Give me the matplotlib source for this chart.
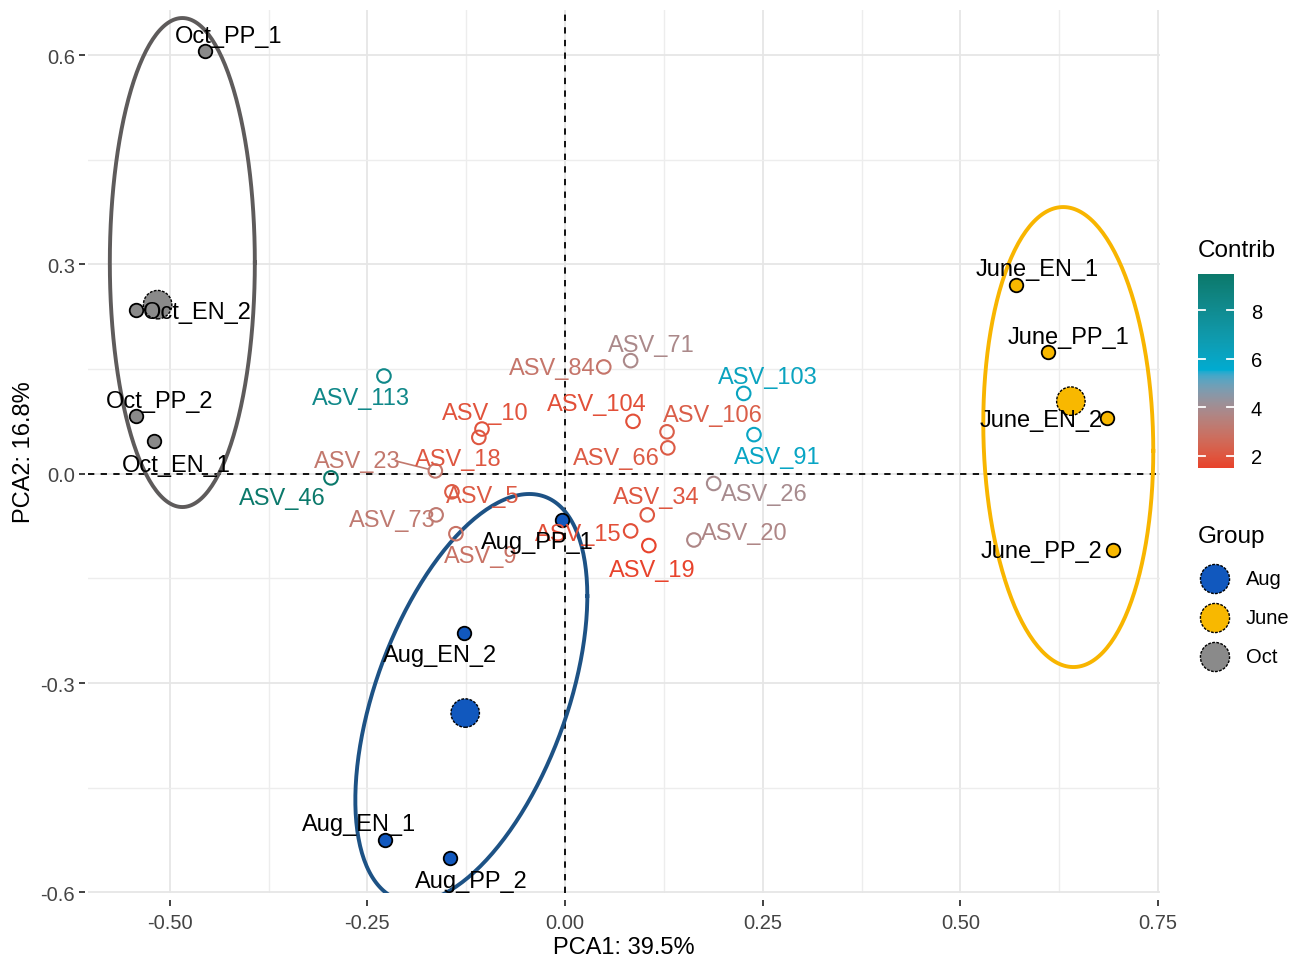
import numpy as np
import matplotlib
matplotlib.use('Agg')
import matplotlib.pyplot as plt
from matplotlib.colors import ListedColormap, Normalize, to_rgb

plt.rcParams['font.family'] = ['Liberation Sans', 'DejaVu Sans']

# ---------------- data ----------------
ind_names = ['Oct_PP_1', 'Oct_EN_2', 'Oct_PP_2', 'Oct_EN_1',
             'June_EN_1', 'June_PP_1', 'June_EN_2', 'June_PP_2',
             'Aug_PP_1', 'Aug_EN_2', 'Aug_EN_1', 'Aug_PP_2']
ind_group = ['Oct', 'Oct', 'Oct', 'Oct',
             'June', 'June', 'June', 'June',
             'Aug', 'Aug', 'Aug', 'Aug']
ind_x = [-0.455, -0.543, -0.543, -0.520,
         0.570, 0.611, 0.685, 0.693,
         -0.004, -0.128, -0.228, -0.145]
ind_y = [0.606, 0.234, 0.082, 0.047,
         0.271, 0.175, 0.080, -0.110,
         -0.067, -0.229, -0.525, -0.551]

var_names = ['ASV_113', 'ASV_46', 'ASV_23', 'ASV_10', 'ASV_18', 'ASV_5',
             'ASV_73', 'ASV_9', 'ASV_84', 'ASV_71', 'ASV_104', 'ASV_106',
             'ASV_66', 'ASV_103', 'ASV_91', 'ASV_26', 'ASV_34', 'ASV_15',
             'ASV_19', 'ASV_20']
var_x = [-0.229, -0.296, -0.164, -0.105, -0.109, -0.143,
         -0.163, -0.138, 0.049, 0.083, 0.086, 0.129,
         0.130, 0.226, 0.239, 0.188, 0.104, 0.083,
         0.106, 0.163]
var_y = [0.140, -0.006, 0.004, 0.064, 0.052, -0.026,
         -0.059, -0.086, 0.153, 0.162, 0.075, 0.060,
         0.037, 0.115, 0.056, -0.014, -0.059, -0.082,
         -0.103, -0.095]
var_contrib = [8.3, 9.5, 3.1, 1.9, 2.0, 2.1,
               3.2, 2.9, 3.0, 3.8, 1.8, 2.2,
               2.1, 6.2, 6.0, 3.9, 2.0, 1.8,
               1.5, 3.7]

groups = ['Aug', 'June', 'Oct']
# group ellipses: centre, half-extent in x and y, correlation (tilt)
ell_cx = [-0.1185, 0.6365, -0.484]
ell_cy = [-0.3215, 0.0525, 0.3026]
ell_sx = [0.1467, 0.1075, 0.0917]
ell_sy = [0.2924, 0.3296, 0.3504]
ell_r = [0.50, -0.06, 0.0]

x_ticks = [-0.50, -0.25, 0.00, 0.25, 0.50, 0.75]
y_ticks = [-0.6, -0.3, 0.0, 0.3, 0.6]
contrib_ticks = [2, 4, 6, 8]
x_title = 'PCA1: 39.5%'
y_title = 'PCA2: 16.8%'

# ---------------- style ----------------
group_fill = {'Aug': '#1158BE', 'June': '#F8B800', 'Oct': '#8A8A8A'}
group_line = {'Aug': '#1D5285', 'June': '#F8B500', 'Oct': '#5E5B5B'}
grad_cols = ['#E8432C', '#00ACD2', '#0B796B']

# label offsets in pixels (dx right, dy down)
ind_off = {'Oct_PP_1': (23, -15), 'Oct_EN_2': (62, 2), 'Oct_PP_2': (24, -15),
           'Oct_EN_1': (22, 24), 'June_EN_1': (21, -16), 'June_PP_1': (20, -15),
           'June_EN_2': (-65, 2), 'June_PP_2': (-71, 1), 'Aug_PP_1': (-25, 22),
           'Aug_EN_2': (-24, 22), 'Aug_EN_1': (-26, -16), 'Aug_PP_2': (21, 23)}
var_off = {'ASV_113': (-23, 22), 'ASV_46': (-49, 20), 'ASV_23': (-78, -10),
           'ASV_10': (3, -16), 'ASV_18': (-21, 22), 'ASV_5': (31, 4),
           'ASV_73': (-44, 5), 'ASV_9': (25, 22), 'ASV_84': (-51, 1),
           'ASV_71': (21, -16), 'ASV_104': (-36, -17), 'ASV_106': (46, -17),
           'ASV_66': (-51, 10), 'ASV_103': (24, -16), 'ASV_91': (23, 22),
           'ASV_26': (51, 11), 'ASV_34': (9, -18), 'ASV_15': (-52, 3),
           'ASV_19': (3, 24), 'ASV_20': (50, -7)}
seg_labels = {'ASV_23'}


# ---------------- helpers ----------------
def _lin(c):
    c = np.asarray(c)
    return np.where(c <= 0.04045, c / 12.92, ((c + 0.055) / 1.055) ** 2.4)


def _gam(c):
    c = np.clip(c, 0, 1)
    return np.where(c <= 0.0031308, 12.92 * c, 1.055 * c ** (1 / 2.4) - 0.055)


M = np.array([[0.4124, 0.3576, 0.1805], [0.2126, 0.7152, 0.0722], [0.0193, 0.1192, 0.9505]])
WHITE = np.array([0.95047, 1.0, 1.08883])


def rgb2lab(rgb):
    xyz = M @ _lin(rgb) / WHITE
    f = np.where(xyz > 216 / 24389, np.cbrt(xyz), (24389 / 27 * xyz + 16) / 116)
    return np.array([116 * f[1] - 16, 500 * (f[0] - f[1]), 200 * (f[1] - f[2])])


def lab2rgb(lab):
    L, a, b = lab
    fy = (L + 16) / 116
    fx = fy + a / 500
    fz = fy - b / 200
    f = np.array([fx, fy, fz])
    xyz = np.where(f ** 3 > 216 / 24389, f ** 3, (116 * f - 16) / (24389 / 27)) * WHITE
    return _gam(np.linalg.solve(M, xyz))


def lab_cmap(cols, n=256):
    labs = [rgb2lab(np.array(to_rgb(c))) for c in cols]
    pos = np.linspace(0, 1, len(cols))
    out = []
    for t in np.linspace(0, 1, n):
        i = min(np.searchsorted(pos, t, side='right') - 1, len(cols) - 2)
        u = (t - pos[i]) / (pos[i + 1] - pos[i])
        out.append(lab2rgb(labs[i] * (1 - u) + labs[i + 1] * u))
    return ListedColormap(np.array(out))


def ellipse_pts(cx, cy, sx, sy, r, seg=240):
    t = np.linspace(0, 2 * np.pi, seg + 1)
    x = cx + sx * np.cos(t)
    y = cy + sy * (r * np.cos(t) + np.sqrt(1 - r ** 2) * np.sin(t))
    return x, y


# ---------------- figure ----------------
W, H = 1300, 962
fig = plt.figure(figsize=(W / 100, H / 100), dpi=100)
L, R_, T, B_ = 88, 1160, 11, 894
ax = fig.add_axes([L / W, 1 - B_ / H, (R_ - L) / W, (B_ - T) / H])
ax.set_xlim(-0.6033, 0.7525)
ax.set_ylim(-0.6009, 0.6645)

for s in ax.spines.values():
    s.set_visible(False)
ax.set_xticks(x_ticks)
ax.set_xticklabels([f'{v:.2f}' for v in x_ticks])
ax.set_yticks(y_ticks)
ax.set_yticklabels([f'{v:.1f}' for v in y_ticks])
ax.set_xticks([(a + b) / 2 for a, b in zip(x_ticks[:-1], x_ticks[1:])], minor=True)
ax.set_yticks([(a + b) / 2 for a, b in zip(y_ticks[:-1], y_ticks[1:])], minor=True)
ax.tick_params(which='major', length=4.5, width=1.3, color='#333333', labelsize=14.5,
               labelcolor='#444444')
ax.tick_params(axis='x', which='major', pad=5)
ax.tick_params(axis='y', which='major', pad=3)
ax.spines['bottom'].set_position(('outward', 5))
ax.spines['left'].set_position(('outward', 2))
ax.tick_params(which='minor', length=0)
ax.grid(which='major', color='#E6E6E6', lw=1.3)
ax.grid(which='minor', color='#EDEDED', lw=1.0)
ax.set_axisbelow(True)

ax.axhline(0, color='black', lw=1.3, ls=(0, (3.5, 3.5)), zorder=2)
ax.axvline(0, color='black', lw=1.3, ls=(0, (3.5, 3.5)), zorder=2)

ax.set_xlabel(x_title, fontsize=17, labelpad=3)
ax.set_ylabel(y_title, fontsize=17, labelpad=4)

# ellipses and mean points
ix = np.array(ind_x)
iy = np.array(ind_y)
ig = np.array(ind_group)
for k, g in enumerate(groups):
    ex, ey = ellipse_pts(ell_cx[k], ell_cy[k], ell_sx[k], ell_sy[k], ell_r[k])
    ax.plot(ex, ey, color=group_line[g], lw=2.8, zorder=3)
    m = ig == g
    ax.scatter([ix[m].mean()], [iy[m].mean()], s=420, color=group_fill[g],
               edgecolor='black', linewidth=1.0, linestyle=(0, (2, 1)), zorder=5)

# variables
cmap = lab_cmap(grad_cols)
norm = Normalize(vmin=min(var_contrib), vmax=max(var_contrib))
for name, x, y, c in zip(var_names, var_x, var_y, var_contrib):
    col = cmap(norm(c))
    ax.scatter([x], [y], s=95, facecolor='none', edgecolor=col, linewidth=1.5, zorder=4)
    dx, dy = var_off[name]
    ax.annotate(name, (x, y), xytext=(dx, -dy), textcoords='offset pixels',
                ha='center', va='center', fontsize=17, color=col, zorder=6)
    if name in seg_labels:
        ax.annotate('', (x, y), xytext=(dx + 38, -dy), textcoords='offset pixels',
                    arrowprops=dict(arrowstyle='-', color=col, lw=1.2,
                                    shrinkA=0, shrinkB=5), zorder=4)

# individuals
for name, x, y, g in zip(ind_names, ind_x, ind_y, ind_group):
    ax.scatter([x], [y], s=95, color=group_fill[g], edgecolor='black', linewidth=1.3,
               zorder=5)
    dx, dy = ind_off[name]
    ax.annotate(name, (x, y), xytext=(dx, -dy), textcoords='offset pixels',
                ha='center', va='center', fontsize=17, color='black', zorder=7)

# ---------------- colorbar legend ----------------
cb_top, cb_bot = 275, 469
cax = fig.add_axes([1198 / W, 1 - cb_bot / H, 36 / W, (cb_bot - cb_top) / H])
vals = np.linspace(norm.vmin, norm.vmax, 300)[:, None]
cax.imshow(vals, cmap=cmap, norm=norm, aspect='auto', origin='lower',
           extent=[0, 1, norm.vmin, norm.vmax])
cax.set_xlim(0, 1)
cax.set_ylim(norm.vmin, norm.vmax)
for s in cax.spines.values():
    s.set_visible(False)
cax.set_xticks([])
cax.yaxis.tick_right()
cax.set_yticks(contrib_ticks)
cax.tick_params(axis='y', length=0, pad=12, labelsize=14.5, labelcolor='black')
for t in contrib_ticks:
    cax.plot([0, 0.2], [t, t], color='white', lw=1.3)
    cax.plot([0.8, 1], [t, t], color='white', lw=1.3)
fig.text(1198 / W, 1 - 251 / H, 'Contrib', fontsize=17.5, ha='left', va='center')

# ---------------- group legend ----------------
lax = fig.add_axes([0, 0, 1, 1], facecolor='none')
lax.set_xlim(0, W)
lax.set_ylim(H, 0)
lax.axis('off')
lax.text(1198, 537, 'Group', fontsize=17.5, ha='left', va='center')
for i, g in enumerate(groups):
    yy = 580 + i * 39
    lax.scatter([1215], [yy], s=440, color=group_fill[g], edgecolor='black',
                linewidth=1.0, linestyle=(0, (2, 1)))
    lax.text(1246, yy, g, fontsize=14.5, ha='left', va='center')

fig.savefig('out.png', dpi=100)
